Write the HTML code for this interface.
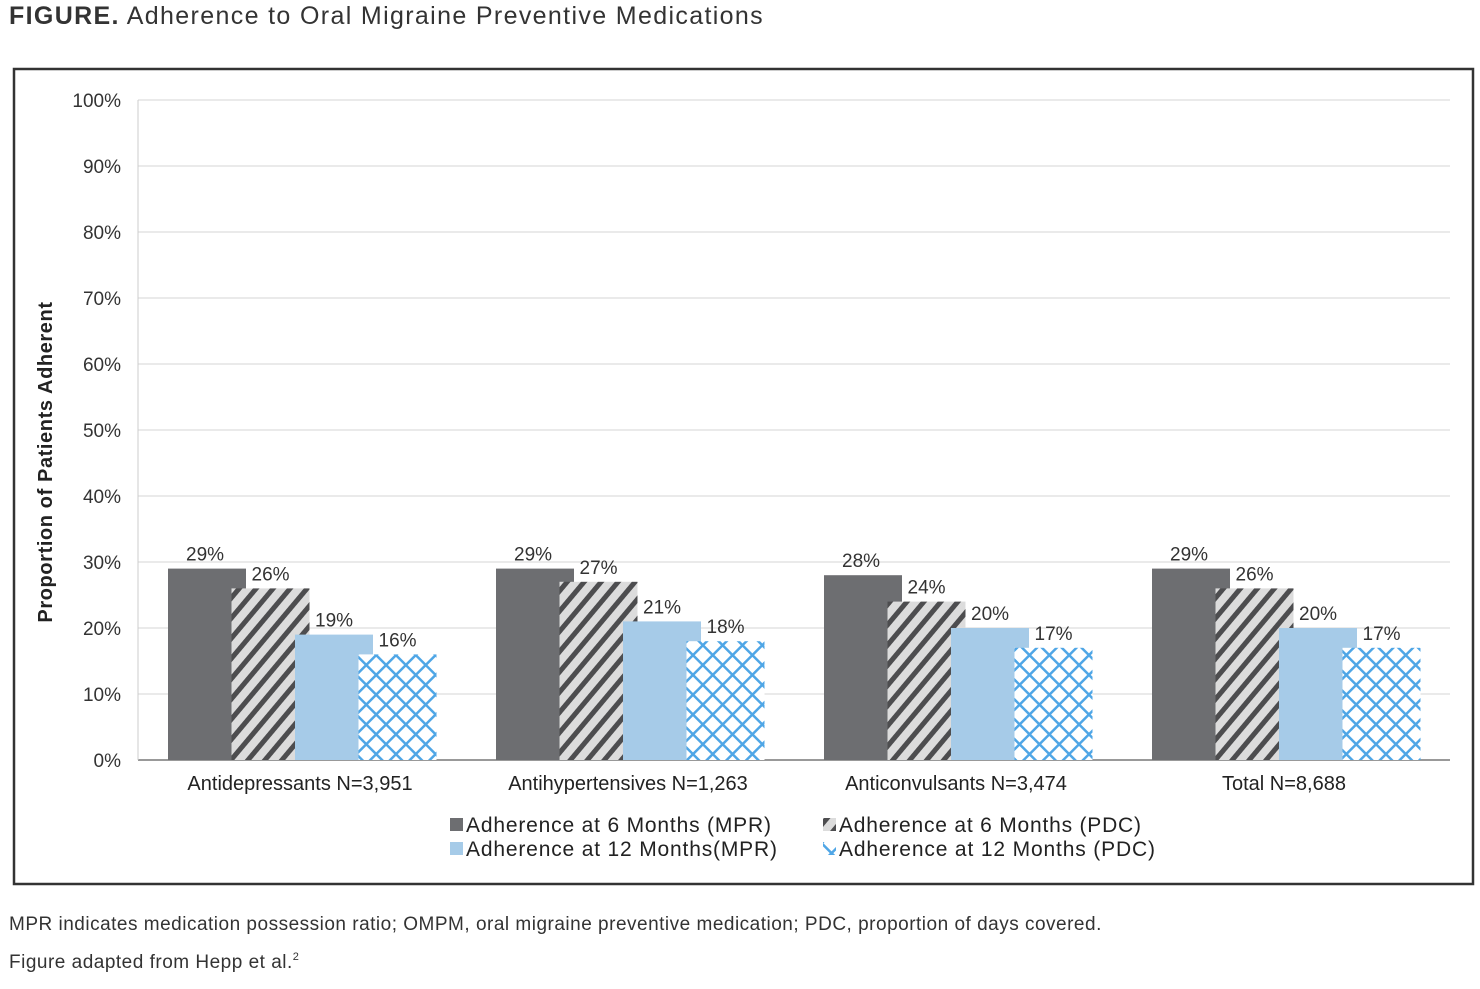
<!DOCTYPE html>
<html><head><meta charset="utf-8"><style>
body{margin:0;background:#fff;width:1480px;height:984px;overflow:hidden;font-family:"Liberation Sans",sans-serif}
</style></head><body>
<svg width="1480" height="984" xmlns="http://www.w3.org/2000/svg">
<defs>
<pattern id="hatch" patternUnits="userSpaceOnUse" width="13" height="13" patternTransform="rotate(40)">
<rect width="13" height="13" fill="#dcdcdc"/><rect width="5" height="13" fill="#4d4d4f"/></pattern>
<pattern id="cross" patternUnits="userSpaceOnUse" width="14" height="14" patternTransform="rotate(45)">
<rect width="14" height="14" fill="#fff"/><rect width="2.5" height="14" fill="#4fa6e6"/><rect width="14" height="2.5" fill="#4fa6e6"/></pattern>
</defs>
<text x="9" y="24" font-size="25" letter-spacing="1.35" fill="#333"><tspan font-weight="bold">FIGURE.</tspan> Adherence to Oral Migraine Preventive Medications</text>
<rect x="14" y="69" width="1459" height="815" fill="none" stroke="#333" stroke-width="2.5"/>
<g id="grid"></g>
<g id="bars"></g>
<text transform="translate(52,462) rotate(-90)" text-anchor="middle" font-size="20" letter-spacing="0.6" font-weight="bold" fill="#222">Proportion of Patients Adherent</text>
<g font-size="21" fill="#222">
<rect x="450" y="818" width="13" height="13" fill="#6d6e71"/><text x="466" y="832" textLength="305">Adherence at 6 Months (MPR)</text>
<rect x="823" y="818" width="13" height="13" fill="url(#hatch)"/><text x="839" y="832" textLength="302">Adherence at 6 Months (PDC)</text>
<rect x="450" y="842" width="13" height="13" fill="#a6cbe8"/><text x="466" y="856" textLength="311">Adherence at 12 Months(MPR)</text>
<rect x="823" y="842" width="13" height="13" fill="url(#cross)"/><text x="839" y="856" textLength="316">Adherence at 12 Months (PDC)</text>
</g>
<text x="9" y="930" font-size="19" letter-spacing="0.5" fill="#333">MPR indicates medication possession ratio; OMPM, oral migraine preventive medication; PDC, proportion of days covered.</text>
<text x="9" y="968" font-size="19" letter-spacing="0.5" fill="#333">Figure adapted from Hepp et al.<tspan font-size="11" dy="-8">2</tspan></text>
</svg>
<script>
const categories=["Antidepressants N=3,951","Antihypertensives N=1,263","Anticonvulsants N=3,474","Total N=8,688"];
const mpr6=[29,29,28,29];
const pdc6=[26,27,24,26];
const mpr12=[19,21,20,20];
const pdc12=[16,18,17,17];
const yTicks=[0,10,20,30,40,50,60,70,80,90,100];
const NS="http://www.w3.org/2000/svg";
const x0=138,x1=1450,y0=760,y100=100;
const y=v=>y0-(v/100)*(y0-y100);
const groupW=(x1-x0)/categories.length;
function el(t,a,p){const e=document.createElementNS(NS,t);for(const k in a)e.setAttribute(k,a[k]);p.appendChild(e);return e;}
const grid=document.getElementById('grid');
yTicks.forEach(t=>{
  const l=el('line',{x1:x0,x2:x1,y1:y(t),y2:y(t),stroke:t===0?'#999':'#e4e4e4','stroke-width':t===0?2:1.5},grid);
  
  
  const tx=el('text',{x:121,y:y(t)+7,'text-anchor':'end','font-size':19,fill:'#333'},grid);
  tx.textContent=t+'%';
  
  
});
el('line',{x1:x0,x2:x0,y1:y100,y2:y0,stroke:'#ccc','stroke-width':1},grid);
const series=[{d:mpr6,f:'#6d6e71',n:'mpr-6'},{d:pdc6,f:'url(#hatch)',n:'pdc-6'},{d:mpr12,f:'#a6cbe8',n:'mpr-12'},{d:pdc12,f:'url(#cross)',n:'pdc-12'}];
const bars=document.getElementById('bars');
categories.forEach((c,i)=>{
  const gx=x0+i*groupW+30;
  series.forEach((s,j)=>{
    const bx=gx+j*63.5, v=s.d[i];
    const r=el('rect',{x:bx,y:y(v),width:78,height:y0-y(v),fill:s.f},bars);
    
    
    const lt=el('text',{x:bx+(j===0?18:20),y:y(v)-8,'font-size':19,fill:'#333'},bars);
    lt.textContent=v+'%';
    
    
  });
  const ct=el('text',{x:x0+i*groupW+groupW/2-2,y:790,'text-anchor':'middle','font-size':20,fill:'#222'},bars);
  ct.textContent=c;
  
  
});
</script>
</body></html>
